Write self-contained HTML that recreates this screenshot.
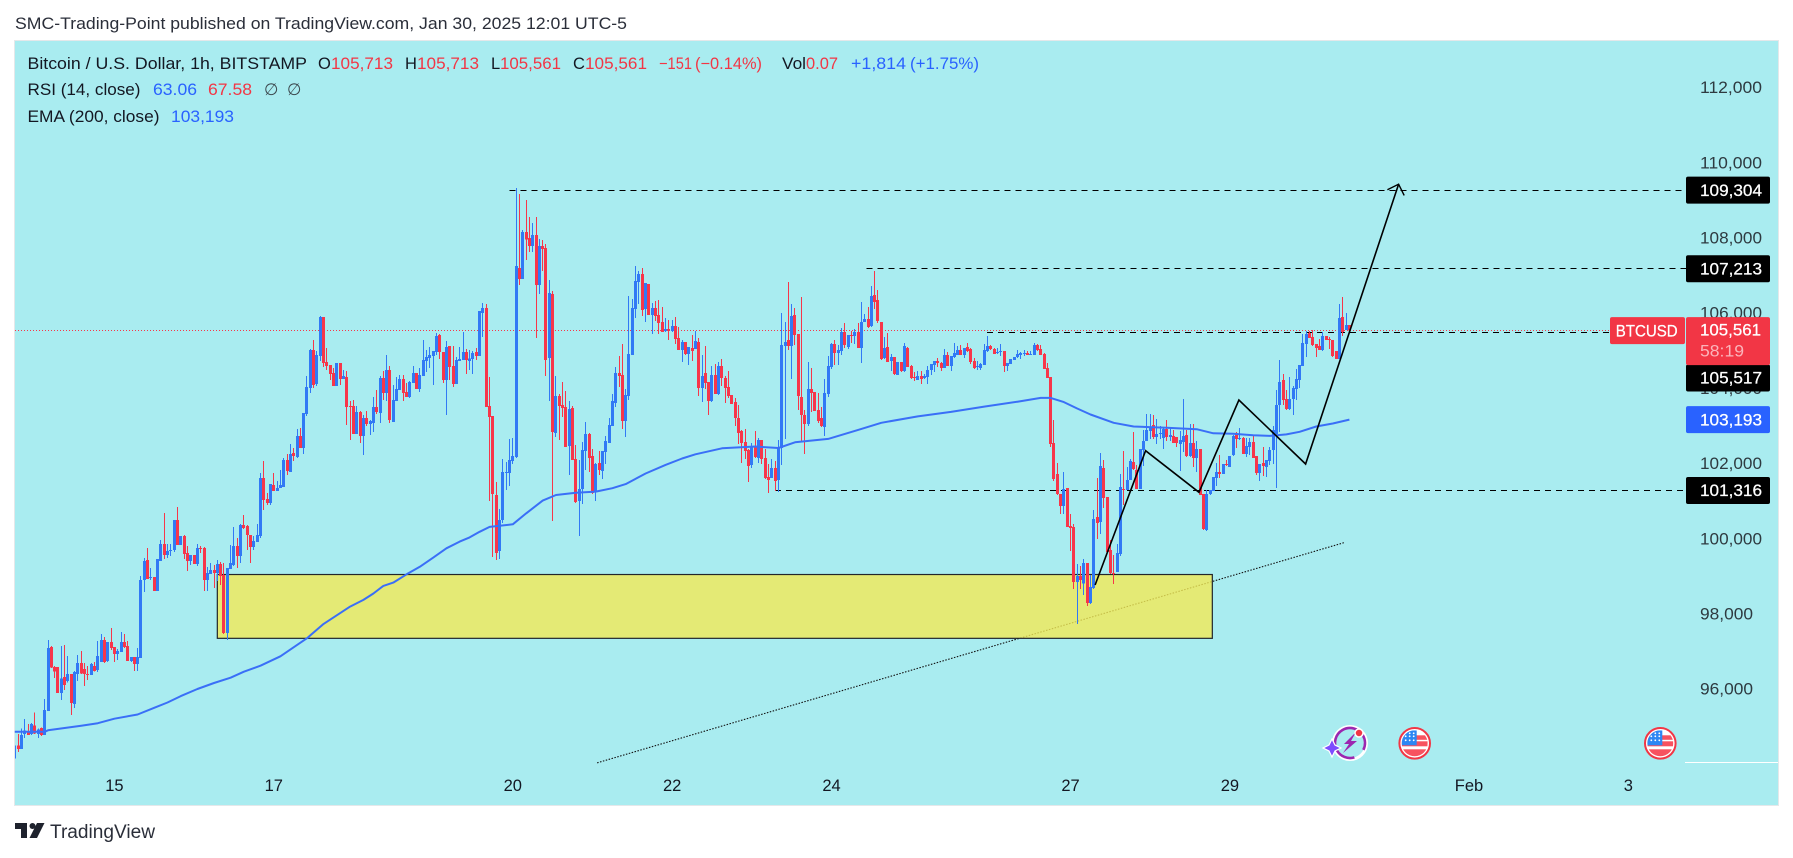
<!DOCTYPE html>
<html lang="en">
<head>
<meta charset="utf-8">
<title>BTCUSD 1h chart</title>
<style>
html,body{margin:0;padding:0;background:#fff;width:1793px;height:858px;overflow:hidden}
svg{display:block}
text{font-family:"Liberation Sans",sans-serif;font-size:16.5px}
</style>
</head>
<body>
<svg id="chart" xmlns="http://www.w3.org/2000/svg" width="1793" height="858" viewBox="0 0 1793 858">
  <defs>
    <clipPath id="plot-clip"><rect x="15" y="41" width="1763" height="764"/></clipPath>
    <clipPath id="flag-clip"><circle cx="0" cy="0" r="13"/></clipPath>
    <g id="us-flag">
      <circle r="15.3" fill="#fff" stroke="#f23645" stroke-width="2"/>
      <g clip-path="url(#flag-clip)">
        <rect x="-13" y="-8" width="26" height="4.5" fill="#f7525f"/>
        <rect x="-13" y="-2" width="26" height="5" fill="#f7525f"/>
        <rect x="-13" y="6" width="26" height="8" fill="#f7525f"/>
        <rect x="-13" y="-13" width="15" height="15" fill="#2d87f3"/>
        <g fill="#fff">
          <circle cx="-9" cy="-7" r=".9"/><circle cx="-5" cy="-7" r=".9"/><circle cx="-1" cy="-7" r=".9"/>
          <circle cx="-9" cy="-3" r=".9"/><circle cx="-5" cy="-3" r=".9"/><circle cx="-1" cy="-3" r=".9"/>
          <circle cx="-5" cy="-10" r=".9"/><circle cx="-1" cy="-10" r=".9"/>
        </g>
      </g>
    </g>
  </defs>

  <rect x="0" y="0" width="1793" height="858" fill="#ffffff"/>
  <text x="15" y="29" fill="#2a2e39" textLength="612" lengthAdjust="spacingAndGlyphs">SMC-Trading-Point published on TradingView.com, Jan 30, 2025 12:01 UTC-5</text>

  <rect x="14.5" y="40.5" width="1764" height="765" fill="#a9ecf0" stroke="#e4e8ea" stroke-width="1"/>

  <g id="axis-layer"></g>
  <g id="trend-layer"></g>
  <g id="zone-layer"></g>
  <g id="level-layer" shape-rendering="crispEdges"></g>
  <g id="candle-layer" clip-path="url(#plot-clip)" shape-rendering="crispEdges"></g>
  <g id="ema-layer"></g>
  <g id="drawing-layer"></g>
  <g id="tag-layer"></g>
  <g id="time-layer"></g>

  <line x1="1685" y1="762.5" x2="1778" y2="762.5" stroke="#ffffff" stroke-width="1"/>

  <g>
    <text x="27.5" y="69" fill="#131722" textLength="279.5" lengthAdjust="spacingAndGlyphs">Bitcoin / U.S. Dollar, 1h, BITSTAMP</text>
    <text x="318" y="69" fill="#131722">O</text>
    <text x="331" y="69" fill="#f23645" textLength="62" lengthAdjust="spacingAndGlyphs">105,713</text>
    <text x="405" y="69" fill="#131722">H</text>
    <text x="417" y="69" fill="#f23645" textLength="62" lengthAdjust="spacingAndGlyphs">105,713</text>
    <text x="491" y="69" fill="#131722">L</text>
    <text x="500" y="69" fill="#f23645" textLength="61" lengthAdjust="spacingAndGlyphs">105,561</text>
    <text x="573" y="69" fill="#131722">C</text>
    <text x="585" y="69" fill="#f23645" textLength="62" lengthAdjust="spacingAndGlyphs">105,561</text>
    <text x="659" y="69" fill="#f23645" textLength="33" lengthAdjust="spacingAndGlyphs">−151</text>
    <text x="695" y="69" fill="#f23645" textLength="67" lengthAdjust="spacingAndGlyphs">(−0.14%)</text>
    <text x="782" y="69" fill="#131722" textLength="24" lengthAdjust="spacingAndGlyphs">Vol</text>
    <text x="806" y="69" fill="#f23645" textLength="32" lengthAdjust="spacingAndGlyphs">0.07</text>
    <text x="851" y="69" fill="#2962ff" textLength="55" lengthAdjust="spacingAndGlyphs">+1,814</text>
    <text x="910" y="69" fill="#2962ff" textLength="69" lengthAdjust="spacingAndGlyphs">(+1.75%)</text>

    <text x="27.5" y="95" fill="#131722" textLength="113" lengthAdjust="spacingAndGlyphs">RSI (14, close)</text>
    <text x="153" y="95" fill="#2962ff" textLength="44" lengthAdjust="spacingAndGlyphs">63.06</text>
    <text x="208" y="95" fill="#f23645" textLength="44" lengthAdjust="spacingAndGlyphs">67.58</text>
    <text x="264" y="95" fill="#3d4a50">∅</text>
    <text x="287" y="95" fill="#3d4a50">∅</text>

    <text x="27.5" y="122" fill="#131722" textLength="132" lengthAdjust="spacingAndGlyphs">EMA (200, close)</text>
    <text x="171" y="122" fill="#2962ff" textLength="63" lengthAdjust="spacingAndGlyphs">103,193</text>
  </g>

  <g transform="translate(1350,743)">
    <circle r="16.5" fill="none" stroke="#ffffff" stroke-width="3"/>
    <circle r="15" fill="none" stroke="#9c27b0" stroke-width="2.6" stroke-dasharray="62 12" transform="rotate(150)"/>
    <polygon points="6,-11 -6,1 -1,1 -7,10 7,-2 1,-2" fill="#9c27b0"/>
    <polygon points="-18,-4 -15,2 -9,5 -15,8 -18,14 -21,8 -27,5 -21,2" fill="#7c4dff" stroke="#ffffff" stroke-width="1.2"/>
    <circle cx="9" cy="-10" r="4" fill="#f23645" stroke="#ffffff" stroke-width="1.5"/>
  </g>
  <use href="#us-flag" transform="translate(1414.7,743.3)"/>
  <use href="#us-flag" transform="translate(1660.3,743.3)"/>

  <g>
    <path d="M15 823H27V838H21V829H15Z" fill="#1e222d"/>
    <circle cx="32.5" cy="826" r="3" fill="#1e222d"/>
    <path d="M37 823H44.5L37 838H29.5Z" fill="#1e222d"/>
    <text x="50" y="838" fill="#2a2e39" style="font-size:19px" textLength="105" lengthAdjust="spacingAndGlyphs">TradingView</text>
  </g>

<script>
// ---- chart data (BTC/USD, 1h candles, index 0 = Jan 13 18:00) ----
const opens = [
94180,94530,94440,94830,94890,94830,95060,94830,94990,94800,
95450,97150,96610,96610,95920,96350,96240,96430,95630,96430,
96720,96560,96430,96400,96640,96530,96750,97330,96770,97280,
97150,96960,97010,97280,97170,96770,96880,96690,96850,98930,
99460,98980,99010,98640,99430,99890,99590,99700,99730,100520,
99860,100100,99650,99430,99590,99350,99780,99780,98930,99090,
99190,99110,99350,99060,97520,99220,99330,99830,99570,100390,
100360,100120,99800,99940,100100,101640,101080,100980,101450,101300,
101370,101400,102120,101800,102300,102200,102760,102440,103340,104030,
105050,104140,104890,105920,104730,104650,104430,104090,104700,104270,
104330,103560,103560,102810,103400,102760,103240,103080,103100,103530,
103370,104300,103900,104510,103130,103690,103980,104270,103930,103800,
104170,104430,104010,104350,104750,104830,104890,104990,105450,104990,
104250,105150,104620,104140,104750,104780,104990,104750,104800,104990,
104890,106030,106160,103560,103290,101190,99700,100520,101770,101770,
102090,102200,107230,106930,108180,108030,107810,108100,106780,107810,
107760,104830,106530,102840,103820,103580,103530,102490,103500,102150,
101030,101350,102360,102810,102230,101270,102040,101830,102330,102570,
103030,103640,104430,104380,103160,103820,104910,106140,106860,107070,
106140,106800,105980,106160,105980,105790,105550,105600,105550,105680,
105370,105040,105260,104940,105100,105070,105260,104030,104430,104190,
103690,104380,103870,104620,104300,104060,103850,103660,103240,102890,
102600,102390,101990,102490,102170,102650,102170,101670,101640,101910,
101590,102440,105150,105310,105150,105980,105470,103800,103320,103080,
104010,103930,103450,103240,103000,103870,104590,105210,104970,105020,
105520,105130,105440,105420,105520,105100,105790,105870,105680,106510,
106380,105790,104830,105130,104750,104860,104380,104730,104490,105100,
104620,104330,104250,104350,104300,104330,104510,104650,104750,104700,
104570,104910,104620,104860,104910,105050,104910,105130,105070,104750,
104590,104570,104650,105020,105150,105070,104970,104990,105020,104620,
104670,104780,104860,104910,104940,104970,104910,104910,105180,105070,
104940,104570,104330,102570,101750,101220,100900,101380,100360,100340,
98870,99030,98840,99380,98320,98720,100600,100470,101910,101140,
99730,99110,99140,99620,101350,101320,101590,102070,101850,101350,
102390,102630,102890,103050,102730,102810,102700,102940,102730,102760,
102730,102540,102600,102780,102230,102570,102170,102410,101220,100260,
101220,101290,101640,101800,101750,102010,101930,102250,102810,102680,
102700,102280,102460,102600,102230,101770,102040,101930,102090,102390,
102810,103580,104250,103740,103480,103740,104010,104250,104620,105210,
105500,105390,105210,105150,105050,105420,105340,105310,105020,104810,
105920,105580,105713];
const highs = [
94540,94830,94980,95230,95100,95130,95410,94980,95010,95760,
97330,97170,96640,96610,97170,97200,96910,96430,96510,96930,
97040,96720,96640,96720,96750,97300,97490,97410,97280,97650,
97150,97090,97540,97490,97300,96880,96880,97120,99040,99510,
99780,99250,99010,99490,99990,100710,99890,99890,100520,100870,
100100,100120,99830,99590,99590,99890,99830,99810,99270,99380,
99330,99460,99410,99380,99250,99860,100340,100040,100420,100660,
100390,100120,100100,100420,101770,102090,101240,101480,101770,101560,
101850,102170,102280,102550,102440,102940,102970,103370,104350,105070,
105310,105020,105950,105920,105100,104650,104570,104700,104700,104510,
104490,103690,103720,103560,103420,103320,103420,103190,103800,103980,
104350,104490,104910,104620,104110,104330,104380,104380,104170,104220,
104620,104430,104570,105310,105050,105130,105020,105500,105470,104990,
105290,105150,105150,104860,105130,105520,105070,105040,105020,105100,
106080,106300,106270,104330,103290,101540,100810,102150,102070,102680,
102700,109350,109190,108240,109040,108580,108420,108580,108000,107970,
107870,106910,106610,104350,103880,104190,103960,103690,103560,102520,
102120,102600,103130,102840,102410,102040,102360,102360,102760,103240,
103880,104590,104890,105210,104010,106480,106400,107280,107150,107230,
106830,106800,106300,106350,106380,106190,105900,105840,105840,105920,
105660,105310,105260,105130,105440,105550,105370,104910,105150,104190,
104620,104670,104730,104810,104350,104490,103850,103770,103580,102920,
102940,102410,102570,102890,102700,102650,102410,102010,102150,102090,
102650,106030,105790,106850,106270,106160,105470,106460,103450,104730,
104570,103930,103900,103530,104270,104890,105230,105310,105180,105630,
105760,105440,105550,105600,105760,106320,106000,106190,106750,107150,
106640,105790,105390,105500,104940,104860,104730,104730,105230,105130,
104650,104460,104490,104490,104410,104620,104670,104750,104830,104730,
105070,104990,104890,105230,105150,105180,105100,105230,105100,104830,
104750,104700,105210,105420,105180,105100,105100,105210,105020,104700,
104810,104860,105050,104990,105050,105020,105020,105230,105210,105180,
104970,104700,104330,103180,102040,101220,101800,101380,100680,100420,
99350,99300,99490,99380,99060,100790,101640,102300,102120,101140,
99990,99590,99880,101750,102360,101930,102150,102860,101990,102410,
102920,103340,103340,103320,103210,103020,102970,103180,102970,102920,
102730,102890,103740,102920,103080,103080,102620,102410,101220,101320,
101320,101670,102040,102250,102010,102120,102230,102780,102860,102970,
102730,102700,102700,102760,102230,102010,102460,102120,102460,103020,
103980,104780,104410,103980,104330,104090,104540,104650,105470,105550,
105550,105580,105210,105340,105520,105420,105390,105310,105020,106270,
106460,106030,105713];
const lows = [
94180,94350,94440,94730,94800,94800,94830,94730,94780,94800,
95450,96590,96320,95920,95740,96000,96200,95340,95520,96240,
96430,96110,96270,96400,96490,96480,96750,96720,96750,97070,
96750,96800,97010,97120,96770,96750,96510,96510,96850,98610,
98950,98930,98640,98640,99430,99490,99510,99570,99670,99860,
99860,99490,99170,99330,99350,99300,99650,98640,98640,99090,
98710,98900,98790,97490,97330,99220,99300,99250,99380,100280,
99730,99380,99730,99940,100050,100790,100920,100920,101300,101300,
101370,101400,101720,101800,102090,102170,102440,102280,103290,103900,
104030,104090,104750,104590,104510,104250,104090,104090,104110,104270,
103050,102650,102810,102810,102570,102250,103020,102790,102860,103340,
103100,103720,103690,103100,103130,103690,103980,103690,103800,103770,
104170,104010,103930,104350,104460,104570,104110,104910,104810,104170,
103320,104250,104060,104140,104750,104780,104410,104510,104410,104780,
104890,105390,103530,101030,99540,99460,99490,100440,101320,101430,
102010,102170,106770,106930,107440,107650,107650,105370,106540,107150,
104350,103690,100500,102730,102650,103260,102470,101720,102120,100970,
100100,100950,101850,101800,101210,101030,101720,101610,102010,102570,
103030,103530,104060,102940,102730,103720,104910,105900,106270,105950,
105790,105980,105470,105820,105470,105530,105530,105310,105530,105210,
105040,104730,104910,104650,104750,105070,103820,103660,104010,103320,
103660,103870,103850,104090,103640,103770,103610,103020,102550,102040,
102150,101530,101910,102170,102040,102010,101610,101240,101640,101290,
101270,101990,102680,105050,104270,105180,103450,102630,102280,103020,
103400,103420,103100,103000,102760,103800,104540,104650,104650,104910,
105100,105070,105230,105210,105100,104700,105790,105630,105660,106140,
105760,104780,104810,104730,104490,104380,104380,104460,104460,104590,
104270,104220,104250,104140,104270,104140,104380,104460,104590,104490,
104570,104620,104490,104830,104910,104910,104830,104990,104670,104540,
104510,104510,104650,104990,105050,104940,104940,104890,104460,104490,
104670,104780,104830,104810,104890,104910,104910,104910,105020,104910,
104540,104300,102460,101560,101190,100680,100680,100340,99700,98690,
97760,98690,98530,98240,98290,98690,100020,100150,100840,99640,
99090,98820,99140,99570,100920,101320,101590,101850,101350,101350,
101960,102630,102680,102680,102540,102680,102410,102620,102620,102570,
102460,101830,102330,102200,102200,101930,101800,101190,100260,100230,
101190,101290,101430,101640,101750,101960,101930,102230,102440,102650,
102280,102200,102250,102170,101720,101560,101690,101670,101990,102010,
101380,102860,103580,103450,103450,103320,103720,104030,104620,104860,
105360,105150,104860,105050,105020,105310,105070,104860,104810,104810,
105420,105580,105561];
const closes = [
94520,94440,94800,94920,94810,95100,94840,94950,94800,95470,
97120,96600,96490,95920,96310,96140,96430,95660,96480,96720,
96440,96430,96400,96690,96510,96910,97330,96750,97280,97120,
96960,97040,97280,97150,96770,96880,96690,96880,98930,99430,
98950,99010,98640,99490,99890,99590,99700,99730,100520,99860,
100100,99620,99430,99590,99350,99780,99750,98930,99110,99190,
99110,99350,99030,97520,99250,99380,99830,99570,100390,100310,
100120,99800,99960,100120,101640,101060,100980,101480,101300,101370,
101450,102120,101830,102280,102230,102760,102440,103370,104060,105050,
104110,104910,105920,104700,104620,104410,104090,104700,104270,104350,
103530,103530,102810,103400,102760,103240,103080,103160,103530,103400,
104300,103900,104510,103190,103720,104010,104270,103900,103800,104190,
104430,104010,104380,104780,104860,104910,105020,105420,104990,104250,
105130,104590,104140,104780,104810,104990,104780,104820,104970,104890,
106080,106160,103530,103260,101210,99650,100520,101800,101800,102120,
102230,107280,106930,108180,107990,107810,108100,106780,107810,107730,
104780,106560,102860,103820,103560,103500,102470,103480,102120,101000,
101350,102390,102810,102170,101240,102010,101850,102360,102620,103050,
103690,104430,104350,103160,103850,104940,106160,106880,107070,106110,
106830,105980,106160,105950,105760,105530,105600,105550,105680,105340,
105040,105260,104940,105130,105020,105290,104030,104350,104170,103690,
104380,103870,104620,104300,104030,103820,103610,103240,102840,102570,
102360,101960,102490,102200,102650,102150,101640,101590,101910,101560,
102440,105180,105260,105150,105950,105440,103820,103320,103080,104010,
103900,103420,103160,103020,103900,104620,105210,104970,105050,105520,
105180,105440,105420,105520,105100,105790,105870,105660,106480,106320,
105820,104810,105100,104730,104860,104410,104730,104490,105150,104590,
104300,104300,104350,104270,104350,104510,104670,104750,104700,104570,
104910,104620,104890,104970,105050,104910,105100,105020,104730,104570,
104620,104670,105050,105150,105070,104940,104990,105020,104620,104700,
104810,104860,104940,104970,104970,104910,104940,105180,105050,104910,
104540,104300,102540,101610,101220,100900,101350,100340,100310,98870,
99030,98930,99380,98320,98740,100550,100440,101960,101110,99670,
99110,99090,99650,101400,101320,101590,102090,101880,101350,102410,
102630,102920,103000,102730,102810,102840,102940,102730,102780,102570,
102570,102650,102760,102230,102570,102170,102410,101190,100280,101220,
101320,101670,101800,101750,102010,101990,102230,102760,102680,102700,
102280,102490,102600,102170,101770,102010,101960,102120,102390,102920,
103580,104190,103720,103480,103740,104030,104270,104650,105230,105470,
105360,105180,105100,105050,105420,105310,105310,104890,104810,105900,
105520,105710,105561];

const emaBars = [0,9,10,20,25,30,37,42,46,50,55,60,65,69,74,80,88,93,101,105,108,111,114,118,122,126,130,134,137,140,143,150,154,159,163,169,175,180,184,190,196,201,205,213,223,230,235,245,254,261,272,282,292,302,309,312,316,320,324,331,337,347,356,361,367,373,378,383,387,392,397,402];
const emaValues = [94890,94890,94930,95050,95120,95240,95350,95530,95670,95840,96030,96190,96330,96490,96650,96900,97380,97760,98220,98400,98570,98770,98860,99080,99280,99520,99770,99950,100060,100210,100340,100410,100700,101040,101190,101250,101280,101370,101480,101760,101990,102160,102270,102430,102480,102440,102590,102680,102920,103110,103280,103400,103540,103670,103770,103770,103660,103490,103330,103110,103010,102980,102940,102830,102820,102780,102760,102800,102870,103010,103090,103193];

const priceTicks = [112000,110000,108000,106000,104000,102000,100000,98000,96000];
const timeTickBars = [30,78,150,198,246,318,366,438,486];
const timeTickLabels = ['15','17','20','22','24','27','29','Feb','3'];

const levelValues = [109304,107213,105517,101316];
const levelLabels = ['109,304','107,213','105,517','101,316'];
const levelStartBars = [149,256.5,292.8,229];
const lastPrice = 105561;
const emaLast = 103193;

const zoneBars = [61,360.7];
const zonePrices = [99074,97377];
const trendBars = [175.4,400.3];
const trendPrices = [94065,99920];
const projectionBars = [325.4,340.6,356.7,368.7,388.8,416.8];
const projectionPrices = [98795,102367,101261,103716,102014,109454];

// ---- axis functions ----
const xK = k => 14.8 + 3.32 * k;
const yP = p => 539.7 - (p - 100000) * 0.0376;
const fmt = p => p.toLocaleString('en-US');
const NS = 'http://www.w3.org/2000/svg';
const make = (tag, parent) => { const n = document.createElementNS(NS, tag); parent.appendChild(n); return n; };
const UP = '#3179f5', DOWN = '#f7364a';

// price axis ticks
const axisLayer = document.getElementById('axis-layer');
priceTicks.forEach(p => {
  const t = make('text', axisLayer);
  
  
  t.setAttribute('x', 1700);
  t.setAttribute('y', yP(p) + 4.6);
  t.setAttribute('fill', '#2e3a40');
  t.setAttribute('textLength', p >= 100000 ? 62 : 53);
  t.setAttribute('lengthAdjust', 'spacingAndGlyphs');
  t.textContent = fmt(p);
});

// time axis
const timeLayer = document.getElementById('time-layer');
timeTickBars.forEach((k, i) => {
  const t = make('text', timeLayer);
  
  
  t.setAttribute('x', xK(k));
  t.setAttribute('y', 791);
  t.setAttribute('text-anchor', 'middle');
  t.setAttribute('fill', '#131722');
  t.textContent = timeTickLabels[i];
});

// dotted trendline (below the zone fill)
const trendLayer = document.getElementById('trend-layer');
const trend = make('line', trendLayer);


trend.setAttribute('x1', xK(trendBars[0]));
trend.setAttribute('y1', yP(trendPrices[0]));
trend.setAttribute('x2', xK(trendBars[1]));
trend.setAttribute('y2', yP(trendPrices[1]));
trend.setAttribute('stroke', '#111');
trend.setAttribute('stroke-width', '1.1');
trend.setAttribute('stroke-dasharray', '1.5 1.5');

// yellow zone
const zone = make('rect', document.getElementById('zone-layer'));


zone.setAttribute('x', xK(zoneBars[0]));
zone.setAttribute('y', yP(zonePrices[0]));
zone.setAttribute('width', xK(zoneBars[1]) - xK(zoneBars[0]));
zone.setAttribute('height', yP(zonePrices[1]) - yP(zonePrices[0]));
zone.setAttribute('fill', 'rgba(242,234,86,0.8)');
zone.setAttribute('stroke', '#23262b');
zone.setAttribute('stroke-width', '1.2');

// horizontal levels
const levelLayer = document.getElementById('level-layer');
levelValues.forEach((p, i) => {
  const l = make('line', levelLayer);
  
  
  const y = Math.round(yP(p)) + 0.5;
  l.setAttribute('x1', xK(levelStartBars[i]));
  l.setAttribute('y1', y);
  l.setAttribute('x2', p === 105517 ? 1610 : 1686);
  l.setAttribute('y2', y);
  l.setAttribute('stroke', '#000');
  l.setAttribute('stroke-width', '1');
  l.setAttribute('stroke-dasharray', '6 5');
});
const priceLine = make('line', levelLayer);


priceLine.setAttribute('x1', 15);
priceLine.setAttribute('y1', Math.round(yP(lastPrice)) - 0.5);
priceLine.setAttribute('x2', 1610);
priceLine.setAttribute('y2', Math.round(yP(lastPrice)) - 0.5);
priceLine.setAttribute('stroke', '#f7364a');
priceLine.setAttribute('stroke-width', '1');
priceLine.setAttribute('stroke-dasharray', '1 2');

// candles
const candleLayer = document.getElementById('candle-layer');
opens.forEach((o, k) => {
  const c = closes[k], h = highs[k], l = lows[k];
  const col = c >= o ? UP : DOWN;
  const cx = Math.round(xK(k) - 0.5);
  const g = make('g', candleLayer);
  
  
  const wick = make('rect', g);
  
  
  wick.setAttribute('x', cx);
  wick.setAttribute('y', yP(h));
  wick.setAttribute('width', 1);
  wick.setAttribute('height', Math.max(1, yP(l) - yP(h)));
  wick.setAttribute('fill', col);
  const body = make('rect', g);
  
  
  body.setAttribute('x', cx - 1);
  body.setAttribute('y', yP(Math.max(o, c)));
  body.setAttribute('width', 3);
  body.setAttribute('height', Math.max(1, Math.abs(yP(o) - yP(c))));
  body.setAttribute('fill', col);
});

// EMA
const ema = make('polyline', document.getElementById('ema-layer'));


ema.setAttribute('points', emaBars.map((k, i) => xK(k).toFixed(1) + ',' + yP(emaValues[i]).toFixed(1)).join(' '));
ema.setAttribute('fill', 'none');
ema.setAttribute('stroke', '#3a6ff7');
ema.setAttribute('stroke-width', '2');
ema.setAttribute('stroke-linejoin', 'round');

// projection zigzag + arrow
const drawingLayer = document.getElementById('drawing-layer');
const zig = make('polyline', drawingLayer);


const pts = projectionBars.map((k, i) => [xK(k), yP(projectionPrices[i])]);
zig.setAttribute('points', pts.map(a => a[0].toFixed(1) + ',' + a[1].toFixed(1)).join(' '));
zig.setAttribute('fill', 'none');
zig.setAttribute('stroke', '#000');
zig.setAttribute('stroke-width', '1.6');
zig.setAttribute('stroke-linejoin', 'miter');
const tip = pts[pts.length - 1], prev = pts[pts.length - 2];
const ang = Math.atan2(prev[1] - tip[1], prev[0] - tip[0]);
const head = make('polyline', drawingLayer);


const bLen = 12.5, spread = Math.PI / 4;
head.setAttribute('points', [
  (tip[0] + bLen * Math.cos(ang + spread)).toFixed(1) + ',' + (tip[1] + bLen * Math.sin(ang + spread)).toFixed(1),
  tip[0].toFixed(1) + ',' + tip[1].toFixed(1),
  (tip[0] + bLen * Math.cos(ang - spread)).toFixed(1) + ',' + (tip[1] + bLen * Math.sin(ang - spread)).toFixed(1)
].join(' '));
head.setAttribute('fill', 'none');
head.setAttribute('stroke', '#000');
head.setAttribute('stroke-width', '1.4');

// price tags
const tagLayer = document.getElementById('tag-layer');
levelValues.forEach((p, i) => {
  const yc = p === 105517 ? yP(p) + 45.7 : yP(p) + 0.3;
  const r = make('rect', tagLayer);
  
  
  r.setAttribute('x', 1686);
  r.setAttribute('y', yc - 13.5);
  r.setAttribute('width', 84);
  r.setAttribute('height', 27);
  r.setAttribute('rx', 2);
  r.setAttribute('fill', '#000');
  const t = make('text', tagLayer);
  
  
  t.setAttribute('x', 1700);
  t.setAttribute('y', yc + 5.7);
  t.setAttribute('fill', '#fff');
  t.setAttribute('stroke', '#fff');
  t.setAttribute('stroke-width', '0.25');
  t.setAttribute('textLength', 62);
  t.setAttribute('lengthAdjust', 'spacingAndGlyphs');
  t.textContent = levelLabels[i];
});

const emaTag = make('rect', tagLayer);


emaTag.setAttribute('x', 1686);
emaTag.setAttribute('y', yP(emaLast) - 13.5);
emaTag.setAttribute('width', 84);
emaTag.setAttribute('height', 27);
emaTag.setAttribute('rx', 2);
emaTag.setAttribute('fill', '#2962ff');
const emaTagText = make('text', tagLayer);


emaTagText.setAttribute('x', 1700);
emaTagText.setAttribute('y', yP(emaLast) + 5.7);
emaTagText.setAttribute('fill', '#fff');
emaTagText.setAttribute('stroke', '#fff');
emaTagText.setAttribute('stroke-width', '0.25');
emaTagText.setAttribute('textLength', 62);
emaTagText.setAttribute('lengthAdjust', 'spacingAndGlyphs');
emaTagText.textContent = fmt(emaLast);

const lastY = yP(lastPrice);
const symTag = make('rect', tagLayer);


symTag.setAttribute('x', 1610);
symTag.setAttribute('y', lastY - 13.5);
symTag.setAttribute('width', 75);
symTag.setAttribute('height', 27);
symTag.setAttribute('rx', 2);
symTag.setAttribute('fill', '#f23645');
const symText = make('text', tagLayer);


symText.setAttribute('x', 1615.7);
symText.setAttribute('y', lastY + 5.7);
symText.setAttribute('fill', '#fff');
symText.setAttribute('stroke', '#fff');
symText.setAttribute('stroke-width', '0.25');
symText.setAttribute('textLength', 62);
symText.setAttribute('lengthAdjust', 'spacingAndGlyphs');
symText.textContent = 'BTCUSD';
const lastTag = make('rect', tagLayer);


lastTag.setAttribute('x', 1686);
lastTag.setAttribute('y', lastY - 13.5);
lastTag.setAttribute('width', 84);
lastTag.setAttribute('height', 48);
lastTag.setAttribute('rx', 2);
lastTag.setAttribute('fill', '#f23645');
const lastText = make('text', tagLayer);


lastText.setAttribute('x', 1700);
lastText.setAttribute('y', lastY + 5);
lastText.setAttribute('fill', '#fff');
lastText.setAttribute('stroke', '#fff');
lastText.setAttribute('stroke-width', '0.25');
lastText.setAttribute('textLength', 61);
lastText.setAttribute('lengthAdjust', 'spacingAndGlyphs');
lastText.textContent = fmt(lastPrice);
const countdown = make('text', tagLayer);


countdown.setAttribute('x', 1700);
countdown.setAttribute('y', lastY + 26);
countdown.setAttribute('fill', '#fbb4bb');
countdown.setAttribute('textLength', 44);
countdown.setAttribute('lengthAdjust', 'spacingAndGlyphs');
countdown.textContent = '58:19';
</script>
</svg>
</body>
</html>
